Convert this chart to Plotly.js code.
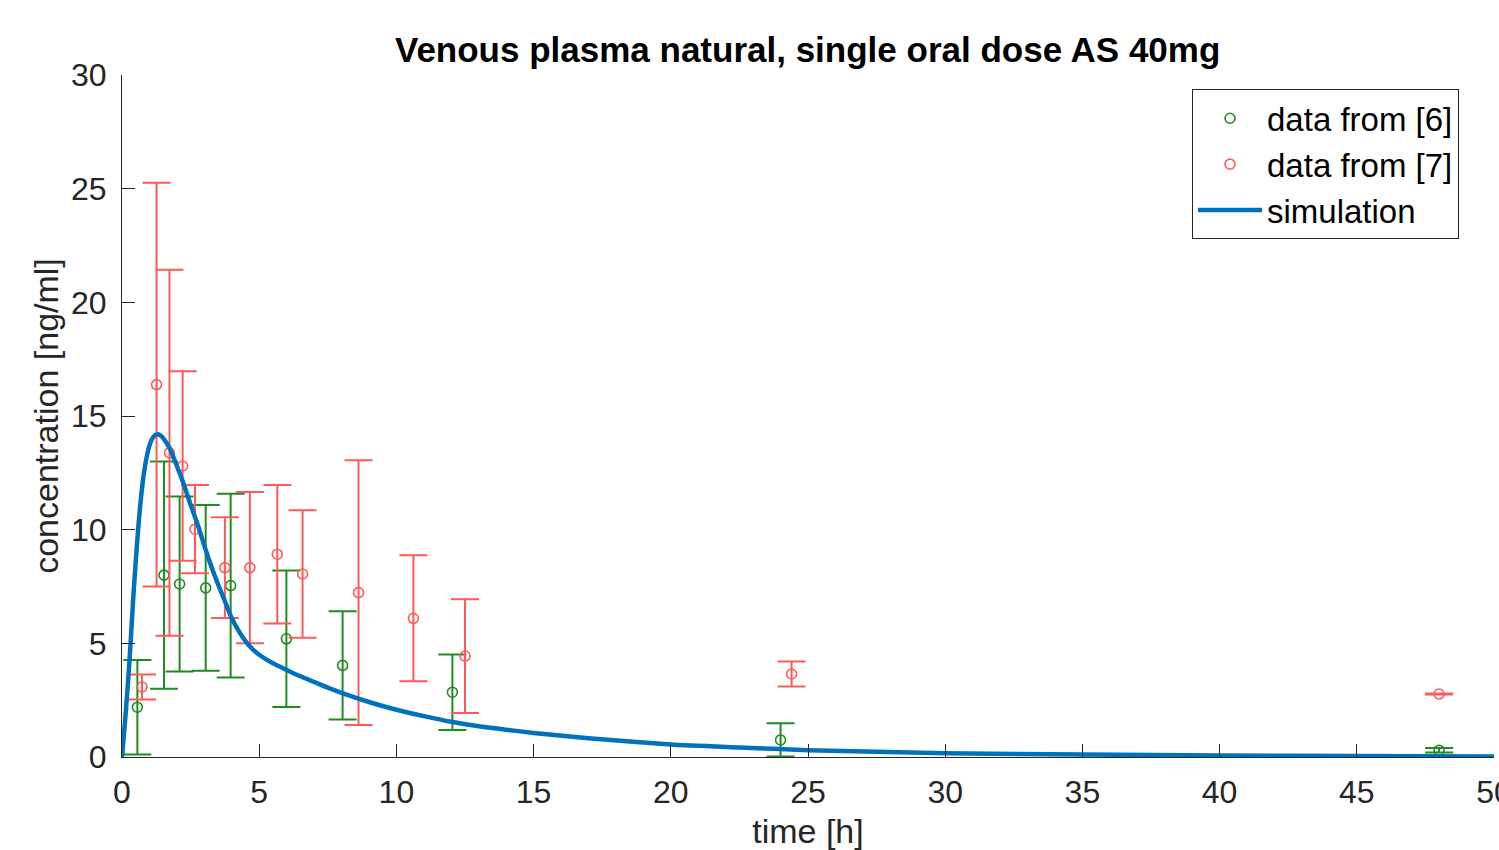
<!DOCTYPE html>
<html>
<head>
<meta charset="utf-8">
<script src="https://cdn.plot.ly/plotly-3.0.1.min.js"></script>
<style>
html,body{margin:0;padding:0;background:#fff;}
#chart{width:1499px;height:850px;}
</style>
</head>
<body>
<div id="chart"></div>
<script>
// Data from [6] (green)
const time6 = [0.56, 1.53, 2.10, 3.05, 3.96, 5.99, 8.04, 12.04, 24.0, 48.0];
const conc6 = [2.19, 8.0, 7.61, 7.44, 7.54, 5.2, 4.03, 2.85, 0.75, 0.3];
const err6  = [2.08, 5.0, 3.85, 3.65, 4.04, 3.0, 2.38, 1.66, 0.73, 0.1];

// Data from [7] (red)
const time7 = [0.73, 1.26, 1.73, 2.21, 2.66, 3.75, 4.66, 5.66, 6.58, 8.62, 10.62, 12.5, 24.4, 48.0];
const conc7 = [3.08, 16.38, 13.38, 12.8, 10.02, 8.33, 8.33, 8.92, 8.05, 7.23, 6.10, 4.44, 3.65, 2.77];
const err7  = [0.55, 8.88, 8.05, 4.17, 1.94, 2.22, 3.33, 3.05, 2.8, 5.82, 2.77, 2.5, 0.55, 0.02];

// Simulation (blue)
const simTime = [0, 0.1, 0.2, 0.3, 0.4, 0.5, 0.6, 0.7, 0.8, 0.9, 1.0, 1.1, 1.2, 1.3, 1.4, 1.5, 1.75,
  2.0, 2.25, 2.5, 2.75, 3.0, 3.25, 3.5, 3.75, 4.0, 4.25, 4.5, 4.75, 5.0, 5.5, 6.0, 6.5, 7.0, 7.5, 8.0,
  9.0, 10, 11, 12, 13, 14, 15, 17, 20, 22.5, 25, 27.5, 30, 35, 40, 45, 50];
const simConc = [0, 1.4, 2.95, 4.75, 6.8, 8.6, 10.2, 11.5, 12.5, 13.2, 13.7, 14.0, 14.15, 14.2, 14.15, 14.03, 13.55,
  12.8, 12.0, 11.1, 10.25, 9.3, 8.4, 7.6, 6.85, 6.1, 5.55, 5.1, 4.75, 4.5, 4.12, 3.83, 3.55, 3.3, 3.05, 2.82,
  2.42, 2.08, 1.8, 1.55, 1.35, 1.2, 1.06, 0.82, 0.55, 0.42, 0.3, 0.23, 0.17, 0.11, 0.07, 0.04, 0.02];

const green = '#1f8c1f';
const red = '#ff5a5a';
const blue = '#0072bd';
const axisColor = '#262626';
const font = 'Liberation Sans, Arial, sans-serif';

const traces = [
  {
    x: time6, y: conc6, type: 'scatter', mode: 'markers', name: 'data from [6]',
    marker: {symbol: 'circle-open', size: 10, color: green, line: {width: 1.6, color: green}},
    error_y: {type: 'data', array: err6, visible: true, color: green, thickness: 2, width: 14}
  },
  {
    x: time7, y: conc7, type: 'scatter', mode: 'markers', name: 'data from [7]',
    marker: {symbol: 'circle-open', size: 10, color: red, line: {width: 1.6, color: red}},
    error_y: {type: 'data', array: err7, visible: true, color: red, thickness: 2, width: 14}
  },
  {
    x: simTime, y: simConc, type: 'scatter', mode: 'lines', name: 'simulation',
    line: {color: blue, width: 4.5, shape: 'spline', smoothing: 0.6}
  }
];

const layout = {
  width: 1499, height: 850,
  margin: {l: 122, r: 5, t: 75, b: 93},
  paper_bgcolor: '#ffffff', plot_bgcolor: '#ffffff',
  font: {family: font, color: axisColor, size: 32},
  title: {
    text: '<b>Venous plasma natural, single oral dose AS 40mg</b>',
    font: {family: font, size: 35, color: '#000000'},
    x: 0.5388, xanchor: 'center', y: 0.942, yanchor: 'middle'
  },
  showlegend: true,
  legend: {
    x: 0.9745, xanchor: 'right', y: 0.979, yanchor: 'top',
    bgcolor: '#ffffff', bordercolor: axisColor, borderwidth: 1,
    font: {family: font, size: 33, color: '#000000'},
    itemwidth: 64,
    tracegroupgap: 0
  },
  xaxis: {
    range: [0, 50], tickvals: [0,5,10,15,20,25,30,35,40,45,50],
    ticks: 'inside', ticklen: 13, tickcolor: axisColor, tickwidth: 1,
    showline: true, linecolor: axisColor, linewidth: 1, mirror: false,
    showgrid: false, zeroline: false,
    tickfont: {family: font, size: 32, color: axisColor},
    ticklabelstandoff: 7,
    ticklabeloverflow: 'allow',
    title: {text: 'time [h]', font: {family: font, size: 34, color: axisColor}, standoff: 17}
  },
  yaxis: {
    range: [0, 30], tickvals: [0,5,10,15,20,25,30],
    ticks: 'inside', ticklen: 13, tickcolor: axisColor, tickwidth: 1,
    showline: true, linecolor: axisColor, linewidth: 1, mirror: false,
    showgrid: false, zeroline: false,
    tickfont: {family: font, size: 32, color: axisColor},
    ticklabelstandoff: 8,
    ticklabeloverflow: 'allow',
    title: {text: 'concentration [ng/ml]', font: {family: font, size: 34, color: axisColor}, standoff: 2}
  }
};

Plotly.newPlot('chart', traces, layout, {displayModeBar: false, staticPlot: true});
</script>
</body>
</html>
